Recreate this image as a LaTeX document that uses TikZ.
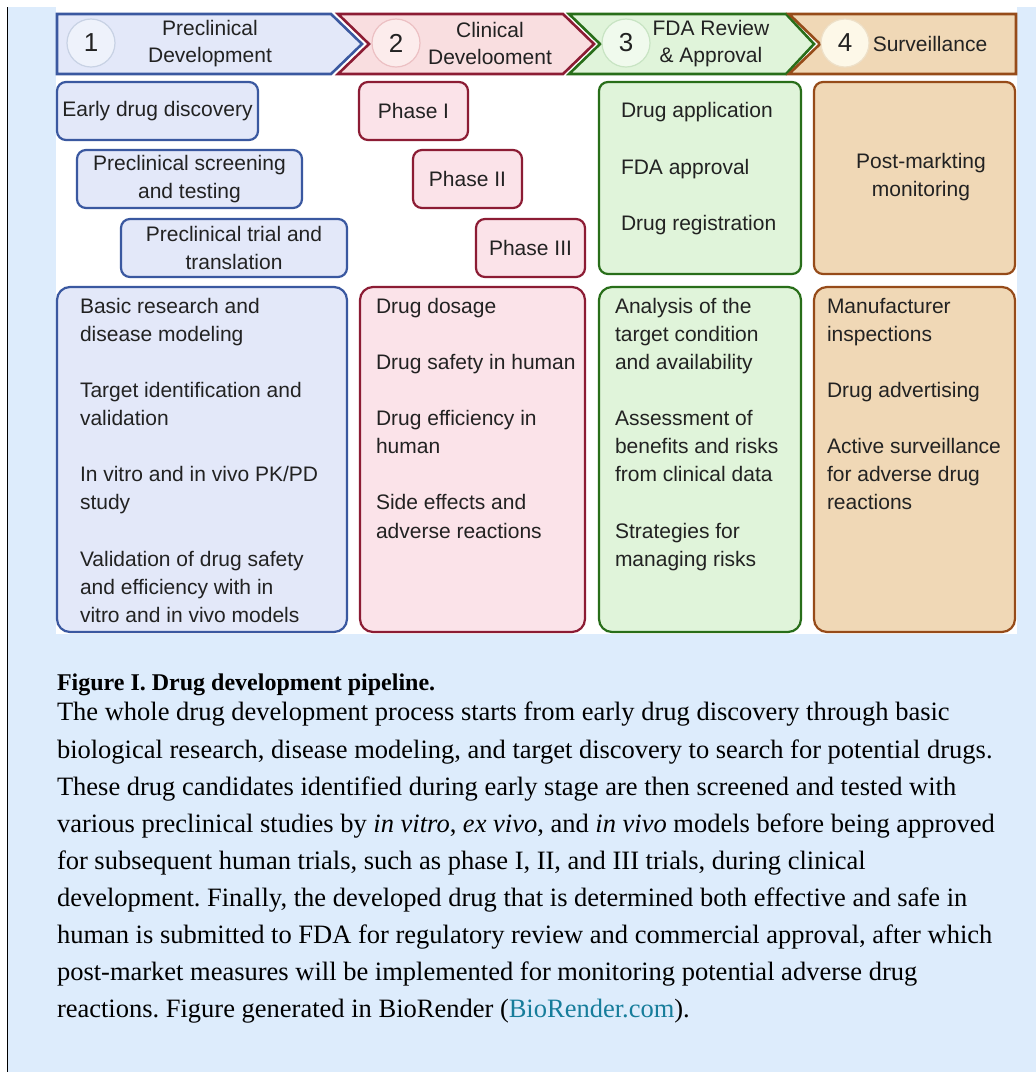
\documentclass[tikz,border=0pt]{standalone}
\usepackage{fontspec}
\setmainfont{Liberation Serif}
\newfontfamily\diagfont{Liberation Sans}
\frenchspacing
\definecolor{bgblue}{RGB}{221,236,252}
\definecolor{txt}{RGB}{34,34,34}
\definecolor{bluefill}{RGB}{227,232,249}
\definecolor{blueline}{RGB}{58,88,160}
\definecolor{redfill}{RGB}{251,227,233}
\definecolor{redline}{RGB}{140,28,52}
\definecolor{greenfill}{RGB}{224,244,218}
\definecolor{greenline}{RGB}{40,110,25}
\definecolor{brownfill}{RGB}{240,216,182}
\definecolor{brownline}{RGB}{150,75,25}
\definecolor{redhfill}{RGB}{249,222,224}
\definecolor{bluecirc}{RGB}{238,242,251}
\definecolor{bluecircl}{RGB}{200,210,228}
\definecolor{redcirc}{RGB}{252,236,236}
\definecolor{redcircl}{RGB}{236,192,195}
\definecolor{greencirc}{RGB}{240,250,237}
\definecolor{greencircl}{RGB}{200,228,195}
\definecolor{browncirc}{RGB}{253,248,232}
\definecolor{browncircl}{RGB}{238,224,200}
\definecolor{link}{RGB}{23,125,155}
\begin{document}
\frenchspacing
\begin{tikzpicture}[x=1pt,y=-1pt,
  every node/.style={inner sep=0pt,outer sep=0pt},
  df/.style={font=\diagfont\fontsize{21}{28.1}\selectfont,text=txt},
  hd/.style={df,font=\diagfont\fontsize{21}{27}\selectfont,align=center},
  box/.style={draw=#1line,fill=#1fill,line width=2.2pt,rounded corners=9pt},
  bigbox/.style={box=#1,rounded corners=13pt,anchor=north west},
  hdr/.style={draw=#1line,fill=#1fill,line width=2.6pt,line join=miter},
  circ/.style={circle,draw=#1circl,fill=#1circ,line width=1.2pt,minimum size=48pt,
    font=\diagfont\fontsize{26}{26}\selectfont,text=txt},
  itemtxt/.style={df,align=left,anchor=north west},
  captxt/.style={font=\fontsize{26.5}{37.1}\selectfont,text=black}
]
\useasboundingbox (0,0) rectangle (1036,1072);
% background
\fill[bgblue] (0,0) rectangle (1036,1072);
\fill[white] (0,0) rectangle (1036,7);
\fill[white] (0,0) rectangle (7,1072);
\fill[white] (56,7) rectangle (1017,634);
\draw[black,line width=1.6pt] (7.5,7) -- (7.5,1072);

% header chevrons
\filldraw[hdr=blue] (57,14) -- (331,14) -- (362,44) -- (331,74) -- (57,74) -- cycle;
\filldraw[hdr=red,fill=redhfill] (338,14) -- (563,14) -- (594,44) -- (563,74) -- (338,74) -- (369,44) -- cycle;
\filldraw[hdr=green] (569,14) -- (786,14) -- (814,44) -- (786,74) -- (569,74) -- (600,44) -- cycle;
\filldraw[hdr=brown] (789,14) -- (1016,14) -- (1016,74) -- (789,74) -- (820,44) -- cycle;

\node[circ=blue] (c1) at (91,43) {1};
\node[circ=red] (c2) at (396,43) {2};
\node[circ=green] (c3) at (626,43) {3};
\node[circ=brown] (c4) at (845,43) {4};

\node[hd] (h1) at (210,43.5) {Preclinical\\Development};
\node[hd] (h2) at (490,43) {Clinical\\Develooment};
\node[hd] (h3) at (711,43.5) {FDA Review\\\& Approval};
\node[hd] (h4) at (930,44) {Surveillance};

% stage boxes
\node[box=blue,df,minimum width=201pt,minimum height=58pt] (early) at (157.5,111) {Early drug discovery};
\node[box=blue,df,align=center,minimum width=225pt,minimum height=58pt] (screen) at (189.5,179) {Preclinical screening\\and testing};
\node[box=blue,df,align=center,minimum width=226pt,minimum height=58pt] (trial) at (234,248) {Preclinical trial and\\translation};

\node[box=red,df,minimum width=109pt,minimum height=58pt] (p1) at (413.5,111) {Phase I};
\node[box=red,df,minimum width=109pt,minimum height=58pt] (p2) at (467.5,179) {Phase II};
\node[box=red,df,minimum width=109pt,minimum height=58pt] (p3) at (530.5,248) {Phase III};

\node[box=green,minimum width=202pt,minimum height=192pt,anchor=north west] (fdabox) at (599,82) {};
\node[itemtxt] (fdatxt) at (621,98.3) {\strut Drug application\\[28.1pt]FDA approval\\[28.1pt]Drug registration};

\node[box=brown,minimum width=201pt,minimum height=192pt,anchor=north west] (postbox) at (814,82) {};
\node[df,align=center] (posttxt) at (921,177) {Post-markting\\monitoring};

% big boxes
\node[bigbox=blue,minimum width=290pt,minimum height=345pt] (bb1) at (57,287) {};
\node[bigbox=red,minimum width=225pt,minimum height=345pt] (bb2) at (360,287) {};
\node[bigbox=green,minimum width=202pt,minimum height=345pt] (bb3) at (599,287) {};
\node[bigbox=brown,minimum width=201pt,minimum height=345pt] (bb4) at (814,287) {};

\node[itemtxt] (t1) at (80,293.6) {\strut Basic research and\\disease modeling\\[28.1pt]Target identification and\\validation\\[28.1pt]In vitro and in vivo PK/PD\\study\\[28.1pt]Validation of drug safety\\and efficiency with in\\vitro and in vivo models};
\node[itemtxt] (t2) at (376,293.6) {\strut Drug dosage\\[28.1pt]Drug safety in human\\[28.1pt]Drug efficiency in\\human\\[28.1pt]Side effects and\\adverse reactions};
\node[itemtxt] (t3) at (615,293.6) {\strut Analysis of the\\target condition\\and availability\\[28.1pt]Assessment of\\benefits and risks\\from clinical data\\[28.1pt]Strategies for\\managing risks};
\node[itemtxt] (t4) at (827,293.6) {\strut Manufacturer\\inspections\\[28.1pt]Drug advertising\\[28.1pt]Active surveillance\\for adverse drug\\reactions};

% caption
\node[captxt,anchor=base west,font=\bfseries\fontsize{24}{37.1}\selectfont] (caphead) at (57,690) {Figure I. Drug development pipeline.};
\node[captxt,align=left,anchor=north west] (capbody) at (57,695) {\strut The whole drug development process starts from early drug discovery through basic\\
biological research, disease modeling, and target discovery to search for potential drugs.\\
These drug candidates identified during early stage are then screened and tested with\\
various preclinical studies by \textit{in vitro}, \textit{ex vivo}, and \textit{in vivo} models before being approved\\
for subsequent human trials, such as phase I, II, and III trials, during clinical\\
development. Finally, the developed drug that is determined both effective and safe in\\
human is submitted to FDA for regulatory review and commercial approval, after which\\
post-market measures will be implemented for monitoring potential adverse drug\\
reactions. Figure generated in BioRender (\textcolor{link}{BioRender.com}).};
\end{tikzpicture}
\end{document}
